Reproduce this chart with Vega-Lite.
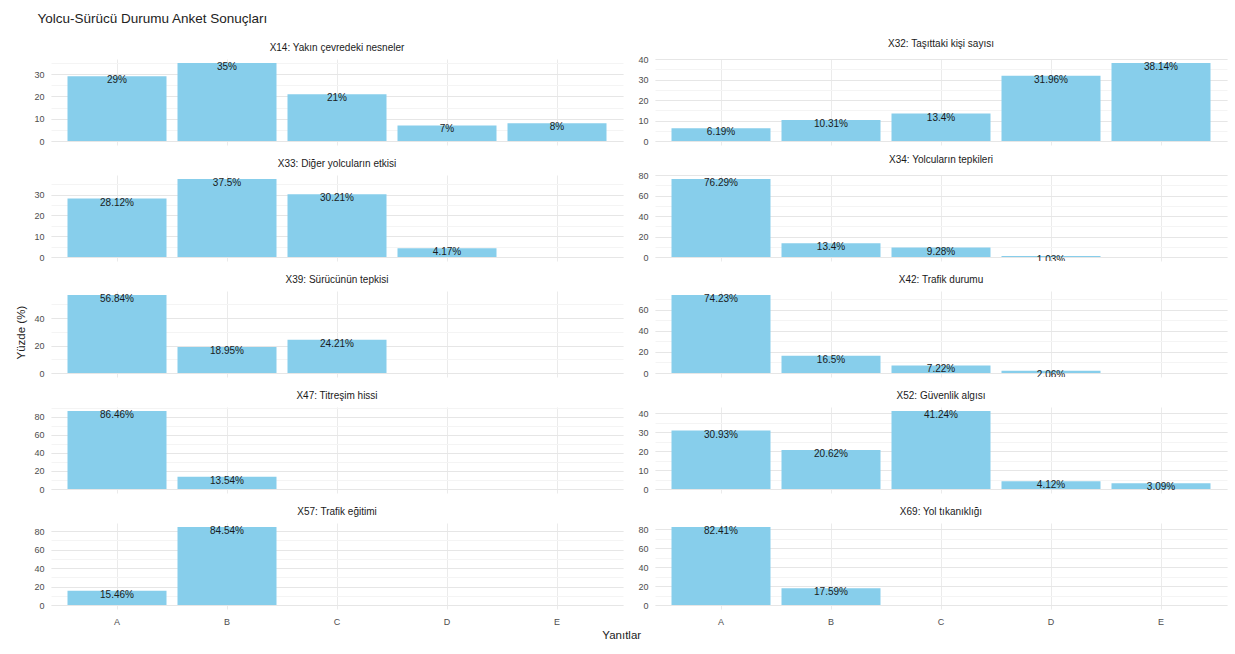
{
  "$schema": "https://vega.github.io/schema/vega-lite/v6.json",
  "background": "white",
  "padding": {"left": 16, "top": 11, "right": 10, "bottom": 8},
  "title": {"text": "Yolcu-Sürücü Durumu Anket Sonuçları", "anchor": "start", "fontSize": 13.5, "fontWeight": "normal", "font": "Liberation Sans", "color": "#222222", "dx": 21, "offset": 14},
  "data": {"values": [
    {"q": "X14: Yakın çevredeki nesneler", "a": "A", "p": 29, "label": "29%"},
    {"q": "X14: Yakın çevredeki nesneler", "a": "B", "p": 35, "label": "35%"},
    {"q": "X14: Yakın çevredeki nesneler", "a": "C", "p": 21, "label": "21%"},
    {"q": "X14: Yakın çevredeki nesneler", "a": "D", "p": 7, "label": "7%"},
    {"q": "X14: Yakın çevredeki nesneler", "a": "E", "p": 8, "label": "8%"},
    {"q": "X32: Taşıttaki kişi sayısı", "a": "A", "p": 6.19, "label": "6.19%"},
    {"q": "X32: Taşıttaki kişi sayısı", "a": "B", "p": 10.31, "label": "10.31%"},
    {"q": "X32: Taşıttaki kişi sayısı", "a": "C", "p": 13.4, "label": "13.4%"},
    {"q": "X32: Taşıttaki kişi sayısı", "a": "D", "p": 31.96, "label": "31.96%"},
    {"q": "X32: Taşıttaki kişi sayısı", "a": "E", "p": 38.14, "label": "38.14%"},
    {"q": "X33: Diğer yolcuların etkisi", "a": "A", "p": 28.12, "label": "28.12%"},
    {"q": "X33: Diğer yolcuların etkisi", "a": "B", "p": 37.5, "label": "37.5%"},
    {"q": "X33: Diğer yolcuların etkisi", "a": "C", "p": 30.21, "label": "30.21%"},
    {"q": "X33: Diğer yolcuların etkisi", "a": "D", "p": 4.17, "label": "4.17%"},
    {"q": "X34: Yolcuların tepkileri", "a": "A", "p": 76.29, "label": "76.29%"},
    {"q": "X34: Yolcuların tepkileri", "a": "B", "p": 13.4, "label": "13.4%"},
    {"q": "X34: Yolcuların tepkileri", "a": "C", "p": 9.28, "label": "9.28%"},
    {"q": "X34: Yolcuların tepkileri", "a": "D", "p": 1.03, "label": "1.03%"},
    {"q": "X39: Sürücünün tepkisi", "a": "A", "p": 56.84, "label": "56.84%"},
    {"q": "X39: Sürücünün tepkisi", "a": "B", "p": 18.95, "label": "18.95%"},
    {"q": "X39: Sürücünün tepkisi", "a": "C", "p": 24.21, "label": "24.21%"},
    {"q": "X42: Trafik durumu", "a": "A", "p": 74.23, "label": "74.23%"},
    {"q": "X42: Trafik durumu", "a": "B", "p": 16.5, "label": "16.5%"},
    {"q": "X42: Trafik durumu", "a": "C", "p": 7.22, "label": "7.22%"},
    {"q": "X42: Trafik durumu", "a": "D", "p": 2.06, "label": "2.06%"},
    {"q": "X47: Titreşim hissi", "a": "A", "p": 86.46, "label": "86.46%"},
    {"q": "X47: Titreşim hissi", "a": "B", "p": 13.54, "label": "13.54%"},
    {"q": "X52: Güvenlik algısı", "a": "A", "p": 30.93, "label": "30.93%"},
    {"q": "X52: Güvenlik algısı", "a": "B", "p": 20.62, "label": "20.62%"},
    {"q": "X52: Güvenlik algısı", "a": "C", "p": 41.24, "label": "41.24%"},
    {"q": "X52: Güvenlik algısı", "a": "D", "p": 4.12, "label": "4.12%"},
    {"q": "X52: Güvenlik algısı", "a": "E", "p": 3.09, "label": "3.09%"},
    {"q": "X57: Trafik eğitimi", "a": "A", "p": 15.46, "label": "15.46%"},
    {"q": "X57: Trafik eğitimi", "a": "B", "p": 84.54, "label": "84.54%"},
    {"q": "X69: Yol tıkanıklığı", "a": "A", "p": 82.41, "label": "82.41%"},
    {"q": "X69: Yol tıkanıklığı", "a": "B", "p": 17.59, "label": "17.59%"}
  ]},
  "vconcat": [
    {
      "title": {"text": "Yanıtlar", "orient": "bottom", "anchor": "middle", "fontSize": 11.5, "fontWeight": "normal", "font": "Liberation Sans", "color": "#222222", "offset": 4},
      "hconcat": [
        {
          "title": {"text": "Yüzde (%)", "orient": "left", "anchor": "middle", "fontSize": 11.5, "fontWeight": "normal", "font": "Liberation Sans", "color": "#222222", "offset": 6},
          "facet": {"field": "q", "type": "nominal", "header": {"title": null, "labelFontSize": 10, "labelFont": "Liberation Sans", "labelColor": "#1a1a1a", "labelPadding": 6}},
          "columns": 2,
          "bounds": "flush",
          "spacing": {"row": 30, "column": 32},
          "resolve": {"scale": {"y": "independent"}},
          "spec": {
            "width": 572,
            "height": 86,
            "layer": [
              {
                "mark": {"type": "bar", "color": "#87CEEB"},
                "encoding": {
                  "x": {"field": "a", "type": "nominal", "title": null,
                        "scale": {"domain": ["A", "B", "C", "D", "E"], "paddingInner": 0.1, "paddingOuter": 0.15},
                        "axis": {"labelAngle": 0, "grid": true, "bandPosition": 0.5, "gridColor": "#EBEBEB", "domain": false, "ticks": false, "labelColor": "#4D4D4D", "labelFontSize": 9, "labelFont": "Liberation Sans", "labelPadding": 8}},
                  "y": {"field": "p", "type": "quantitative", "title": null,
                        "scale": {"nice": false, "zero": true, "padding": 4},
                        "axis": {"tickCount": 8, "grid": true, "gridColor": "#F4F4F4", "labels": false, "ticks": false, "domain": false, "orient": "left"}}
                }
              },
              {
                "mark": {"type": "text", "baseline": "middle", "dy": 4, "fontSize": 10, "font": "Liberation Sans", "color": "#1a1a1a", "clip": true},
                "encoding": {
                  "x": {"field": "a", "type": "nominal", "title": null},
                  "y": {"field": "p", "type": "quantitative", "title": null,
                        "axis": {"tickCount": 4, "grid": true, "gridColor": "#E6E6E6", "ticks": false, "domain": false, "orient": "left", "labelColor": "#4D4D4D", "labelFontSize": 9, "labelFont": "Liberation Sans", "labelPadding": 7}},
                  "text": {"field": "label"}
                }
              }
            ],
            "resolve": {"axis": {"y": "independent"}}
          }
        }
      ]
    }
  ],
  "config": {"view": {"stroke": null}, "axis": {"labelFont": "Liberation Sans"}}
}
